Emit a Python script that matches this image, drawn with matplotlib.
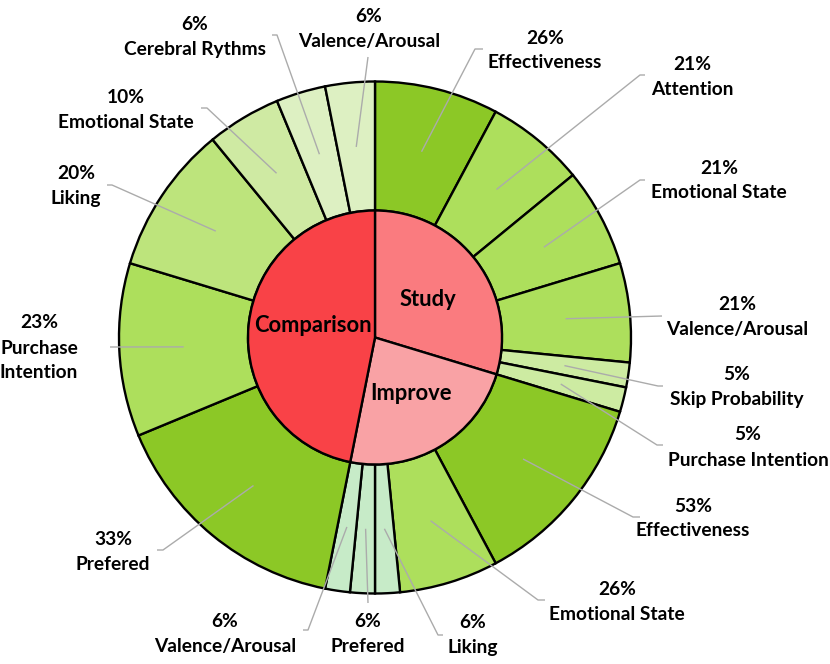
import matplotlib
matplotlib.use("Agg")
import matplotlib.pyplot as plt
import numpy as np

# ---------------- data ----------------
groups = ["Study", "Improve", "Comparison"]
study_names = ["Effectiveness", "Attention", "Emotional State", "Valence/Arousal",
               "Skip Probability", "Purchase Intention"]
study_vals = [5, 4, 4, 4, 1, 1]
improve_names = ["Effectiveness", "Emotional State", "Liking", "Prefered", "Valence/Arousal"]
improve_vals = [8, 4, 1, 1, 1]
comparison_names = ["Prefered", "Purchase\nIntention", "Liking", "Emotional State",
                    "Cerebral Rythms", "Valence/Arousal"]
comparison_vals = [10, 7, 6, 3, 2, 2]

# ---------------- styles ----------------
inner_colors = ["#FA7B7F", "#F9A2A5", "#F94247"]
study_colors = ["#8CC826", "#ADDF5C", "#ADDF5C", "#ADDF5C", "#CDEBA2", "#CDEBA2"]
improve_colors = ["#8CC826", "#ADDF5C", "#C7EBC8", "#C7EBC8", "#C7EBC8"]
comparison_colors = ["#8CC826", "#ADDF5C", "#BDE47C", "#CFEAA3", "#DDF0C2", "#DDF0C2"]

W, H = 830, 664
CX, CY = 375, H - 337.5
R_IN, R_OUT = 127, 256

# label block centres (pixel coords, y down) and leader paths (elbow, end)
label_pos = [
    (545, 50.5), (692, 77), (719, 180.5), (737, 317.5), (737, 387), (748, 447.5),
    (693, 518.5), (617, 602), (473, 635), (368, 634), (225, 634),
    (113, 552), (39, 348), (76, 186), (126, 110), (195, 37.5), (369, 29.5),
]
leader_pts = [
    ((475, 49), (483, 49)), ((640, 75), (645, 75)), ((640, 180), (645, 180)),
    ((662, 316), (662, 316)), ((658, 386), (663, 386)), ((657, 445), (663, 445)),
    ((633, 517), (640, 517)), ((538, 600), (545, 600)), ((438, 635), (443, 635)),
    ((368, 603), (368, 603)), ((308, 630), (303, 630)),
    ((163, 550), (157, 550)), ((110, 347), (110, 347)), ((112, 185), (107, 185)),
    ((207, 108), (201, 108)), ((277, 35), (272, 35)), ((368, 57), (368, 57)),
]
inner_label_pos = [(428, 300), (411, 393), (313, 325)]

FONT = ["Lato", "DejaVu Sans"]
plt.rcParams["font.family"] = FONT

fig = plt.figure(figsize=(W / 100, H / 100), dpi=100)
ax = fig.add_axes([0, 0, 1, 1])

outer_vals = study_vals + improve_vals + comparison_vals
outer_colors = study_colors + improve_colors + comparison_colors
inner_vals = [sum(study_vals), sum(improve_vals), sum(comparison_vals)]

wprops = dict(edgecolor="black", linewidth=1.7)
outer_wedges, _ = ax.pie(outer_vals, radius=R_OUT, center=(CX, CY), startangle=90,
                         counterclock=False, colors=outer_colors,
                         wedgeprops=dict(width=R_OUT - R_IN, **wprops))
inner_wedges, _ = ax.pie(inner_vals, radius=R_IN, center=(CX, CY), startangle=90,
                         counterclock=False, colors=inner_colors, wedgeprops=wprops)

ax.set_xlim(0, W)
ax.set_ylim(0, H)
ax.set_aspect("equal")
ax.axis("off")

vals_list = study_vals + improve_vals + comparison_vals
names = study_names + improve_names + comparison_names
totals = [sum(study_vals)] * len(study_vals) + [sum(improve_vals)] * len(improve_vals) + \
         [sum(comparison_vals)] * len(comparison_vals)

for w, v, tot, name, (lx, ly), (elb, end) in zip(outer_wedges, vals_list, totals, names,
                                                  label_pos, leader_pts):
    mid = np.deg2rad((w.theta1 + w.theta2) / 2)
    rm = (R_IN + R_OUT) / 2
    sx, sy = CX + rm * np.cos(mid), CY + rm * np.sin(mid)
    ax.plot([sx, elb[0], end[0]], [sy, H - elb[1], H - end[1]], color="#ABABAB", lw=1.0,
            solid_capstyle="butt")
    lines = [f"{int(100 * v / tot)}%"] + name.split("\n")
    n = len(lines)
    for i, t in enumerate(lines):
        yy = ly + (i - (n - 1) / 2) * 25
        ax.text(lx, H - yy, t, ha="center", va="center", fontsize=13.8, fontweight="bold",
                color="black")

for g, (lx, ly) in zip(groups, inner_label_pos):
    ax.text(lx, H - ly, g, ha="center", va="center", fontsize=15.8, fontweight="bold",
            color="black")

fig.savefig("out.png", dpi=100)
